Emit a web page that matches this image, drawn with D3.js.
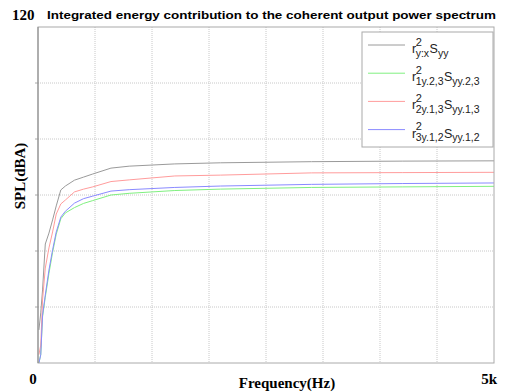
<!DOCTYPE html>
<html>
<head>
<meta charset="utf-8">
<script src="https://cdn.jsdelivr.net/npm/d3@7"></script>
<style>
  body { margin: 0; background: #fff; }
  svg { display: block; }
</style>
</head>
<body>
<div id="chart"></div>
<script>
// Frequencies (Hz) sampled along the curves
const freqs = [10, 30, 50, 80, 120, 160, 200, 250, 300, 400, 500, 600, 800, 1000, 1500, 2000, 3000, 4000, 5000];

// SPL values (dBA)
const grayVals  = [11.8, 17.9, 26.1, 42.5, 46.4, 51.1, 56.1, 61.8, 63.2, 65.3, 66.4, 67.5, 69.6, 70.3, 71.1, 71.5, 71.9, 72.1, 72.2];
const greenVals = [0, 3, 16.5, 23.5, 32, 39.5, 46, 51.5, 53.6, 55.5, 57, 58, 60, 60.6, 61.6, 62.1, 62.7, 62.9, 63.1];
const redVals   = [3, 6.4, 22.5, 33.9, 41.1, 46.8, 53.2, 56.8, 58.2, 61.1, 62.1, 62.9, 64.8, 65.4, 66.8, 67.1, 67.9, 68.0, 68.1];
const blueVals  = [0, 2.9, 17.1, 24.3, 33.2, 40.4, 46.8, 52.1, 54.2, 57.1, 58.7, 59.6, 61.4, 61.9, 62.7, 63.2, 63.8, 64.1, 64.3];

const seriesList = [
    { values: grayVals,  color: '#9a9a9a', sub: 'y:x',    ssub: 'yy' },
    { values: greenVals, color: '#80f080', sub: '1y.2,3', ssub: 'yy.2,3' },
    { values: redVals,   color: '#ff9c9c', sub: '2y.1,3', ssub: 'yy.1,3' },
    { values: blueVals,  color: '#8a8aff', sub: '3y.1,2', ssub: 'yy.1,2' }
];

const xTicks = d3.range(0, 5001, 625);
const yTicks = d3.range(0, 121, 20);

const W = 508, H = 392;
const margin = { top: 27, right: 14, bottom: 29, left: 38 };
const width = W - margin.left - margin.right;
const height = H - margin.top - margin.bottom;

const svg = d3.select('#chart').append('svg')
    .attr('width', W)
    .attr('height', H);

const g = svg.append('g')
    .attr('transform', `translate(${margin.left},${margin.top})`);

const x = d3.scaleLinear().domain([0, 5000]).range([0, width]);
const y = d3.scaleLinear().domain([0, 120]).range([height, 0]);

// grid
g.selectAll('.vgrid')
    .data(xTicks.slice(1, -1)).enter()
    .append('line')
    .attr('x1', d => x(d)).attr('x2', d => x(d))
    .attr('y1', 0).attr('y2', height)
    .attr('stroke', '#c8c8c8')
    .attr('stroke-dasharray', '1,1');

g.selectAll('.hgrid')
    .data(yTicks.slice(1, -1)).enter()
    .append('line')
    .attr('x1', 0).attr('x2', width)
    .attr('y1', d => y(d)).attr('y2', d => y(d))
    .attr('stroke', '#c8c8c8')
    .attr('stroke-dasharray', '1,1');

// small outward ticks on the left
g.selectAll('.ltick')
    .data(yTicks.slice(1, -1)).enter()
    .append('line')
    .attr('x1', -3).attr('x2', 0)
    .attr('y1', d => y(d)).attr('y2', d => y(d))
    .attr('stroke', '#aaa');

// lines
g.append('clipPath').attr('id', 'clip')
    .append('rect').attr('width', width).attr('height', height);

const line = d3.line()
    .x((d, i) => x(freqs[i]))
    .y(d => y(d));

g.append('g').attr('clip-path', 'url(#clip)')
    .selectAll('path')
    .data(seriesList).enter()
    .append('path')
    .attr('d', d => line(d.values))
    .attr('fill', 'none')
    .attr('stroke', d => d.color)
    .attr('stroke-width', 1);

// frame
g.append('rect')
    .attr('width', width).attr('height', height)
    .attr('fill', 'none')
    .attr('stroke', '#aaa');
g.append('line')
    .attr('x1', 0).attr('x2', 0).attr('y1', 0).attr('y2', height)
    .attr('stroke', '#888');

// legend
const legX = 362 - margin.left, legY = 32 - margin.top;
const legend = g.append('g').attr('transform', `translate(${legX},${legY})`);
legend.append('rect')
    .attr('width', 131).attr('height', 115)
    .attr('fill', '#fff')
    .attr('stroke', '#aaa');

const font = 'Arial, "Liberation Sans", sans-serif';
seriesList.forEach((s, i) => {
    const row = legend.append('g').attr('transform', `translate(0,${13 + i * 28.2})`);
    row.append('line')
        .attr('x1', 6).attr('x2', 43)
        .attr('stroke', s.color);
    const r = row.append('text').attr('x', 50).attr('y', 8)
        .style('font-family', font).style('font-size', '12.5px').attr('fill', '#222')
        .text('r');
    const rw = r.node().getComputedTextLength();
    const sup = row.append('text').attr('x', 50 + rw - 0.5).attr('y', 0.5)
        .style('font-family', font).style('font-size', '11px').attr('fill', '#222')
        .text('2');
    const sub = row.append('text').attr('x', 50 + rw - 0.5).attr('y', 11.5)
        .style('font-family', font).style('font-size', '10.5px').attr('fill', '#222')
        .text(s.sub);
    const sx = 50 + rw - 0.5 + Math.max(sub.node().getComputedTextLength(), sup.node().getComputedTextLength()) + 0.5;
    const S = row.append('text').attr('x', sx).attr('y', 8)
        .style('font-family', font).style('font-size', '12.5px').attr('fill', '#222')
        .text('S');
    const Sw = S.node().getComputedTextLength();
    row.append('text').attr('x', sx + Sw).attr('y', 11.5)
        .style('font-family', font).style('font-size', '10.5px').attr('fill', '#222')
        .text(s.ssub);
});

// texts
const serif = '"Liberation Serif", "Times New Roman", serif';
svg.append('text')
    .attr('x', 12).attr('y', 20)
    .style('font-family', serif).style('font-weight', 'bold').style('font-size', '15px')
    .text('120');

svg.append('text')
    .attr('x', 47).attr('y', 19)
    .attr('textLength', 449).attr('lengthAdjust', 'spacingAndGlyphs')
    .style('font-family', font)
    .style('font-weight', 'bold').style('font-size', '11.5px')
    .text('Integrated energy contribution to the coherent output power spectrum');

svg.append('text')
    .attr('transform', 'translate(25,176) rotate(-90)')
    .attr('text-anchor', 'middle')
    .style('font-family', serif).style('font-weight', 'bold').style('font-size', '15px')
    .text('SPL(dBA)');

svg.append('text')
    .attr('x', 33).attr('y', 384)
    .attr('text-anchor', 'middle')
    .style('font-family', serif).style('font-weight', 'bold').style('font-size', '15px')
    .text('0');

svg.append('text')
    .attr('x', 287).attr('y', 388)
    .attr('text-anchor', 'middle')
    .style('font-family', serif).style('font-weight', 'bold').style('font-size', '15px')
    .text('Frequency(Hz)');

svg.append('text')
    .attr('x', 497).attr('y', 384)
    .attr('text-anchor', 'end')
    .style('font-family', serif).style('font-weight', 'bold').style('font-size', '15px')
    .text('5k');
</script>
</body>
</html>
